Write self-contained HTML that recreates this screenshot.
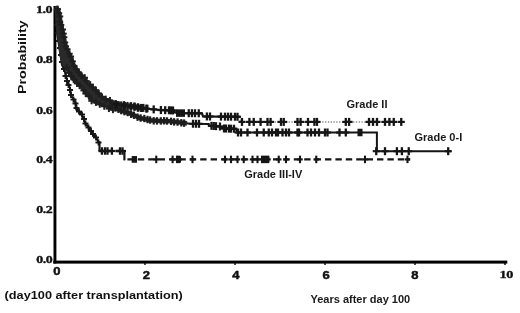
<!DOCTYPE html>
<html><head><meta charset="utf-8"><style>
html,body{margin:0;padding:0;background:#fff;width:520px;height:313px;overflow:hidden}
svg{display:block;filter:grayscale(1)}
.lab{font-family:"Liberation Sans",sans-serif;font-weight:bold;font-size:11px;fill:#1a1a1a}
.v{font-family:"Liberation Sans",sans-serif;font-weight:bold;font-size:10px;fill:#111;stroke:#111;stroke-width:0.45px}
.s{font-family:"Liberation Serif",serif;font-weight:bold;font-size:11.4px;letter-spacing:-0.4px;fill:#111;stroke:#111;stroke-width:0.35px}
</style></head><body>
<svg width="520" height="313" viewBox="0 0 520 313">
<rect x="53.5" y="6" width="2.9" height="257.5" fill="#000"/>
<rect x="53.3" y="260.6" width="454" height="3" fill="#000"/>
<rect x="144.3" y="263" width="1.4" height="2" fill="#000"/>
<rect x="234.3" y="263" width="1.4" height="2" fill="#000"/>
<rect x="324.3" y="263" width="1.4" height="2" fill="#000"/>
<rect x="414.3" y="263" width="1.4" height="2" fill="#000"/>
<rect x="504.3" y="263" width="1.4" height="2" fill="#000"/>
<path d="M55.5 7 L56 20 L57.5 35 L59 45 L60.5 55 L62 65 L64.5 70 L65.8 75 L67 80 L68.5 84.3 L70.4 89.6 L70.9 95.4 L73.75 99.2 L75.7 103 L76.2 108.8 L81.25 113.75 L83.75 118.75 L85 123 L88.75 127.5 L92.5 133.75 L96.25 137.5 L98.75 142.5 L99.5 142.5 L99.5 151" fill="none" stroke="#151515" stroke-width="2.1" />
<path d="M99.5 151 L124.4 151" fill="none" stroke="#151515" stroke-width="2.3" stroke-dasharray="5 3" />
<path d="M124.4 150 L124.4 160.4" fill="none" stroke="#151515" stroke-width="2.2" />
<path d="M124.4 159.4 L410 159.4" fill="none" stroke="#151515" stroke-width="2.2" stroke-dasharray="6.4 4" stroke-dashoffset="-3"/>
<rect x="56.1" y="22" width="1.8" height="6" fill="#151515"/><rect x="54" y="24.05" width="6" height="1.9" fill="#151515"/><rect x="57.1" y="30" width="1.8" height="6" fill="#151515"/><rect x="55" y="32.05" width="6" height="1.9" fill="#151515"/><rect x="58.1" y="38" width="1.8" height="6" fill="#151515"/><rect x="56" y="40.05" width="6" height="1.9" fill="#151515"/><rect x="59.1" y="45" width="1.8" height="6" fill="#151515"/><rect x="57" y="47.05" width="6" height="1.9" fill="#151515"/><rect x="60.1" y="52" width="1.8" height="6" fill="#151515"/><rect x="58" y="54.05" width="6" height="1.9" fill="#151515"/><rect x="61.1" y="59" width="1.8" height="6" fill="#151515"/><rect x="59" y="61.05" width="6" height="1.9" fill="#151515"/><rect x="63.1" y="66" width="1.8" height="6" fill="#151515"/><rect x="61" y="68.05" width="6" height="1.9" fill="#151515"/><rect x="64.6" y="73" width="1.8" height="6" fill="#151515"/><rect x="62.5" y="75.05" width="6" height="1.9" fill="#151515"/><rect x="66.1" y="78" width="1.8" height="6" fill="#151515"/><rect x="64" y="80.05" width="6" height="1.9" fill="#151515"/><rect x="67.6" y="82" width="1.8" height="6" fill="#151515"/><rect x="65.5" y="84.05" width="6" height="1.9" fill="#151515"/><rect x="69.1" y="87" width="1.8" height="6" fill="#151515"/><rect x="67" y="89.05" width="6" height="1.9" fill="#151515"/><rect x="70.1" y="92" width="1.8" height="6" fill="#151515"/><rect x="68" y="94.05" width="6" height="1.9" fill="#151515"/><rect x="72.6" y="96.5" width="1.8" height="6" fill="#151515"/><rect x="70.5" y="98.55" width="6" height="1.9" fill="#151515"/><rect x="74.6" y="100.5" width="1.8" height="6" fill="#151515"/><rect x="72.5" y="102.55" width="6" height="1.9" fill="#151515"/><rect x="75.6" y="105" width="1.8" height="6" fill="#151515"/><rect x="73.5" y="107.05" width="6" height="1.9" fill="#151515"/><rect x="78.1" y="108.5" width="1.8" height="6" fill="#151515"/><rect x="76" y="110.55" width="6" height="1.9" fill="#151515"/><rect x="81.1" y="111.5" width="1.8" height="6" fill="#151515"/><rect x="79" y="113.55" width="6" height="1.9" fill="#151515"/><rect x="83.1" y="116" width="1.8" height="6" fill="#151515"/><rect x="81" y="118.05" width="6" height="1.9" fill="#151515"/><rect x="84.6" y="120.5" width="1.8" height="6" fill="#151515"/><rect x="82.5" y="122.55" width="6" height="1.9" fill="#151515"/><rect x="87.6" y="124.5" width="1.8" height="6" fill="#151515"/><rect x="85.5" y="126.55" width="6" height="1.9" fill="#151515"/><rect x="90.1" y="128" width="1.8" height="6" fill="#151515"/><rect x="88" y="130.05" width="6" height="1.9" fill="#151515"/><rect x="92.1" y="131" width="1.8" height="6" fill="#151515"/><rect x="90" y="133.05" width="6" height="1.9" fill="#151515"/><rect x="95.1" y="134.5" width="1.8" height="6" fill="#151515"/><rect x="93" y="136.55" width="6" height="1.9" fill="#151515"/><rect x="97.6" y="139.5" width="1.8" height="6" fill="#151515"/><rect x="95.5" y="141.55" width="6" height="1.9" fill="#151515"/>
<rect x="100.75" y="147.25" width="2.3" height="7.5" fill="#151515"/><rect x="98.4" y="149.9" width="7" height="2.2" fill="#151515"/><rect x="103.85" y="147.25" width="2.3" height="7.5" fill="#151515"/><rect x="101.5" y="149.9" width="7" height="2.2" fill="#151515"/><rect x="106.35" y="147.25" width="2.3" height="7.5" fill="#151515"/><rect x="104" y="149.9" width="7" height="2.2" fill="#151515"/><rect x="110.75" y="147.25" width="2.3" height="7.5" fill="#151515"/><rect x="108.4" y="149.9" width="7" height="2.2" fill="#151515"/><rect x="118.85" y="147.25" width="2.3" height="7.5" fill="#151515"/><rect x="116.5" y="149.9" width="7" height="2.2" fill="#151515"/><rect x="121.35" y="147.25" width="2.3" height="7.5" fill="#151515"/><rect x="119" y="149.9" width="7" height="2.2" fill="#151515"/>
<rect x="155.2" y="155.65" width="2.1" height="7.5" fill="#151515"/><rect x="153.5" y="158.3" width="5.5" height="2.2" fill="#151515"/><rect x="171.55" y="155.65" width="2.1" height="7.5" fill="#151515"/><rect x="169.85" y="158.3" width="5.5" height="2.2" fill="#151515"/><rect x="175.95" y="155.65" width="2.1" height="7.5" fill="#151515"/><rect x="174.25" y="158.3" width="5.5" height="2.2" fill="#151515"/><rect x="177.95" y="155.65" width="2.1" height="7.5" fill="#151515"/><rect x="176.25" y="158.3" width="5.5" height="2.2" fill="#151515"/><rect x="191.45" y="155.65" width="2.1" height="7.5" fill="#151515"/><rect x="189.75" y="158.3" width="5.5" height="2.2" fill="#151515"/><rect x="223.95" y="155.65" width="2.1" height="7.5" fill="#151515"/><rect x="222.25" y="158.3" width="5.5" height="2.2" fill="#151515"/><rect x="229.95" y="155.65" width="2.1" height="7.5" fill="#151515"/><rect x="228.25" y="158.3" width="5.5" height="2.2" fill="#151515"/><rect x="236.45" y="155.65" width="2.1" height="7.5" fill="#151515"/><rect x="234.75" y="158.3" width="5.5" height="2.2" fill="#151515"/><rect x="242.7" y="155.65" width="2.1" height="7.5" fill="#151515"/><rect x="241" y="158.3" width="5.5" height="2.2" fill="#151515"/><rect x="251.45" y="155.65" width="2.1" height="7.5" fill="#151515"/><rect x="249.75" y="158.3" width="5.5" height="2.2" fill="#151515"/><rect x="256.45" y="155.65" width="2.1" height="7.5" fill="#151515"/><rect x="254.75" y="158.3" width="5.5" height="2.2" fill="#151515"/><rect x="260.95" y="155.65" width="2.1" height="7.5" fill="#151515"/><rect x="259.25" y="158.3" width="5.5" height="2.2" fill="#151515"/><rect x="262.95" y="155.65" width="2.1" height="7.5" fill="#151515"/><rect x="261.25" y="158.3" width="5.5" height="2.2" fill="#151515"/><rect x="264.95" y="155.65" width="2.1" height="7.5" fill="#151515"/><rect x="263.25" y="158.3" width="5.5" height="2.2" fill="#151515"/><rect x="266.95" y="155.65" width="2.1" height="7.5" fill="#151515"/><rect x="265.25" y="158.3" width="5.5" height="2.2" fill="#151515"/><rect x="277.7" y="155.65" width="2.1" height="7.5" fill="#151515"/><rect x="276" y="158.3" width="5.5" height="2.2" fill="#151515"/><rect x="284.95" y="155.65" width="2.1" height="7.5" fill="#151515"/><rect x="283.25" y="158.3" width="5.5" height="2.2" fill="#151515"/><rect x="298.95" y="155.65" width="2.1" height="7.5" fill="#151515"/><rect x="297.25" y="158.3" width="5.5" height="2.2" fill="#151515"/><rect x="315.2" y="155.65" width="2.1" height="7.5" fill="#151515"/><rect x="313.5" y="158.3" width="5.5" height="2.2" fill="#151515"/><rect x="363.95" y="155.65" width="2.1" height="7.5" fill="#151515"/><rect x="362.25" y="158.3" width="5.5" height="2.2" fill="#151515"/><rect x="406.45" y="155.65" width="2.1" height="7.5" fill="#151515"/><rect x="404.75" y="158.3" width="5.5" height="2.2" fill="#151515"/>
<rect x="131.7" y="156.05" width="5.3" height="6.7" fill="#151515"/>
<rect x="176" y="156.15" width="5" height="6.5" fill="#151515"/>
<rect x="262" y="156.15" width="7.5" height="6.5" fill="#151515"/>
<path d="M54 8 L56 5.5 L58.5 7 L60.2 9 L61.5 14 L62.5 20 L64 28 L65.6 35 L67 42 L68.75 49 L71 53 L73.2 57 L74.5 62 L76.5 66 L79.4 70 L83.8 75 L87.8 80 L92 85 L98.4 90.6 L104 96.2 L108 98.6 L113.6 100.2 L120 101.8 L120 110.5 L113.6 109.4 L108 108.2 L100.8 106.2 L94.4 103.8 L89.6 100.2 L84.8 93.8 L80 88.2 L76.3 85 L71.5 80 L68.2 75 L66 71 L64.5 68 L62.2 65 L60.75 60 L59.3 55 L58.75 49 L57.5 39 L56.5 35 L55.5 25 L55 15 L54 7 Z" fill="#2a2a2a"/>
<rect x="56.69" y="5.57" width="2" height="7" fill="#1e1e1e"/><rect x="54.44" y="8.07" width="6.5" height="2" fill="#1e1e1e"/><rect x="57.9" y="9.73" width="2" height="7" fill="#1e1e1e"/><rect x="55.65" y="12.23" width="6.5" height="2" fill="#1e1e1e"/><rect x="58.98" y="12.99" width="2" height="7" fill="#1e1e1e"/><rect x="56.73" y="15.49" width="6.5" height="2" fill="#1e1e1e"/><rect x="58.96" y="18.37" width="2" height="7" fill="#1e1e1e"/><rect x="56.71" y="20.87" width="6.5" height="2" fill="#1e1e1e"/><rect x="60.03" y="21.53" width="2" height="7" fill="#1e1e1e"/><rect x="57.78" y="24.03" width="6.5" height="2" fill="#1e1e1e"/><rect x="61.75" y="26.02" width="2" height="7" fill="#1e1e1e"/><rect x="59.5" y="28.52" width="6.5" height="2" fill="#1e1e1e"/><rect x="62.5" y="30.13" width="2" height="7" fill="#1e1e1e"/><rect x="60.25" y="32.63" width="6.5" height="2" fill="#1e1e1e"/><rect x="63.12" y="33.72" width="2" height="7" fill="#1e1e1e"/><rect x="60.87" y="36.22" width="6.5" height="2" fill="#1e1e1e"/><rect x="63.94" y="38.98" width="2" height="7" fill="#1e1e1e"/><rect x="61.69" y="41.48" width="6.5" height="2" fill="#1e1e1e"/><rect x="64.82" y="42.86" width="2" height="7" fill="#1e1e1e"/><rect x="62.57" y="45.36" width="6.5" height="2" fill="#1e1e1e"/><rect x="66.28" y="45.74" width="2" height="7" fill="#1e1e1e"/><rect x="64.03" y="48.24" width="6.5" height="2" fill="#1e1e1e"/><rect x="68.44" y="50.25" width="2" height="7" fill="#1e1e1e"/><rect x="66.19" y="52.75" width="6.5" height="2" fill="#1e1e1e"/><rect x="69.84" y="53.06" width="2" height="7" fill="#1e1e1e"/><rect x="67.59" y="55.56" width="6.5" height="2" fill="#1e1e1e"/><rect x="71.58" y="57.83" width="2" height="7" fill="#1e1e1e"/><rect x="69.33" y="60.33" width="6.5" height="2" fill="#1e1e1e"/><rect x="73.15" y="62.29" width="2" height="7" fill="#1e1e1e"/><rect x="70.9" y="64.79" width="6.5" height="2" fill="#1e1e1e"/><rect x="75.48" y="65.83" width="2" height="7" fill="#1e1e1e"/><rect x="73.23" y="68.33" width="6.5" height="2" fill="#1e1e1e"/><rect x="77.75" y="68.89" width="2" height="7" fill="#1e1e1e"/><rect x="75.5" y="71.39" width="6.5" height="2" fill="#1e1e1e"/><rect x="80.59" y="72.26" width="2" height="7" fill="#1e1e1e"/><rect x="78.34" y="74.76" width="6.5" height="2" fill="#1e1e1e"/><rect x="83.73" y="74.2" width="2" height="7" fill="#1e1e1e"/><rect x="81.48" y="76.7" width="6.5" height="2" fill="#1e1e1e"/><rect x="85.5" y="77.64" width="2" height="7" fill="#1e1e1e"/><rect x="83.25" y="80.14" width="6.5" height="2" fill="#1e1e1e"/><rect x="89.2" y="81.21" width="2" height="7" fill="#1e1e1e"/><rect x="86.95" y="83.71" width="6.5" height="2" fill="#1e1e1e"/><rect x="91.92" y="83.78" width="2" height="7" fill="#1e1e1e"/><rect x="89.67" y="86.28" width="6.5" height="2" fill="#1e1e1e"/><rect x="94.94" y="86.68" width="2" height="7" fill="#1e1e1e"/><rect x="92.69" y="89.18" width="6.5" height="2" fill="#1e1e1e"/><rect x="97.74" y="89.96" width="2" height="7" fill="#1e1e1e"/><rect x="95.49" y="92.46" width="6.5" height="2" fill="#1e1e1e"/><rect x="101.01" y="93.41" width="2" height="7" fill="#1e1e1e"/><rect x="98.76" y="95.91" width="6.5" height="2" fill="#1e1e1e"/><rect x="104.73" y="95.61" width="2" height="7" fill="#1e1e1e"/><rect x="102.48" y="98.11" width="6.5" height="2" fill="#1e1e1e"/><rect x="108.94" y="96.95" width="2" height="7" fill="#1e1e1e"/><rect x="106.69" y="99.45" width="6.5" height="2" fill="#1e1e1e"/><rect x="65.71" y="63.96" width="2" height="7" fill="#1e1e1e"/><rect x="63.46" y="66.46" width="6.5" height="2" fill="#1e1e1e"/><rect x="68.03" y="69.34" width="2" height="7" fill="#1e1e1e"/><rect x="65.78" y="71.84" width="6.5" height="2" fill="#1e1e1e"/><rect x="70.39" y="72.68" width="2" height="7" fill="#1e1e1e"/><rect x="68.14" y="75.18" width="6.5" height="2" fill="#1e1e1e"/><rect x="72.7" y="75.95" width="2" height="7" fill="#1e1e1e"/><rect x="70.45" y="78.45" width="6.5" height="2" fill="#1e1e1e"/><rect x="76.01" y="79.86" width="2" height="7" fill="#1e1e1e"/><rect x="73.76" y="82.36" width="6.5" height="2" fill="#1e1e1e"/><rect x="78.67" y="82.21" width="2" height="7" fill="#1e1e1e"/><rect x="76.42" y="84.71" width="6.5" height="2" fill="#1e1e1e"/><rect x="82.64" y="86.9" width="2" height="7" fill="#1e1e1e"/><rect x="80.39" y="89.4" width="6.5" height="2" fill="#1e1e1e"/><rect x="84.71" y="90.09" width="2" height="7" fill="#1e1e1e"/><rect x="82.46" y="92.59" width="6.5" height="2" fill="#1e1e1e"/><rect x="87.91" y="92.69" width="2" height="7" fill="#1e1e1e"/><rect x="85.66" y="95.19" width="6.5" height="2" fill="#1e1e1e"/><rect x="90.59" y="97.3" width="2" height="7" fill="#1e1e1e"/><rect x="88.34" y="99.8" width="6.5" height="2" fill="#1e1e1e"/><rect x="94.96" y="98.91" width="2" height="7" fill="#1e1e1e"/><rect x="92.71" y="101.41" width="6.5" height="2" fill="#1e1e1e"/><rect x="98.81" y="100.8" width="2" height="7" fill="#1e1e1e"/><rect x="96.56" y="103.3" width="6.5" height="2" fill="#1e1e1e"/><rect x="103.27" y="102.77" width="2" height="7" fill="#1e1e1e"/><rect x="101.02" y="105.27" width="6.5" height="2" fill="#1e1e1e"/><rect x="107.9" y="105.04" width="2" height="7" fill="#1e1e1e"/><rect x="105.65" y="107.54" width="6.5" height="2" fill="#1e1e1e"/><rect x="111.92" y="106.12" width="2" height="7" fill="#1e1e1e"/><rect x="109.67" y="108.62" width="6.5" height="2" fill="#1e1e1e"/>
<path d="M110 106.5 L120 110 L130 113.5 L140 118 L150 120.3 L160 121 L170 121.3 L180 122.5 L190 123.7 L208.75 123.9 L208.75 125.6 L220 126.5 L224 128.5 L236 128.8 L237 132.5 L376.9 132.5 L376.9 151.2 L451.5 151.2" fill="none" stroke="#151515" stroke-width="2.0" />
<path d="M112 107.2 L120 110 L130 113.5 L140 118 L150 120.3 L160 121 L170 121.3 L180 122.5 L187 123.4" fill="none" stroke="#2a2a2a" stroke-width="4.6" />
<rect x="110.72" y="103.22" width="2.2" height="7.4" fill="#1e1e1e"/><rect x="109.82" y="105.82" width="4" height="2.2" fill="#1e1e1e"/><rect x="114.26" y="104.28" width="2.2" height="7.4" fill="#1e1e1e"/><rect x="113.36" y="106.88" width="4" height="2.2" fill="#1e1e1e"/><rect x="117.35" y="105.64" width="2.2" height="7.4" fill="#1e1e1e"/><rect x="116.45" y="108.24" width="4" height="2.2" fill="#1e1e1e"/><rect x="120.09" y="106.88" width="2.2" height="7.4" fill="#1e1e1e"/><rect x="119.19" y="109.48" width="4" height="2.2" fill="#1e1e1e"/><rect x="123.27" y="107.94" width="2.2" height="7.4" fill="#1e1e1e"/><rect x="122.37" y="110.54" width="4" height="2.2" fill="#1e1e1e"/><rect x="126.52" y="108.79" width="2.2" height="7.4" fill="#1e1e1e"/><rect x="125.62" y="111.39" width="4" height="2.2" fill="#1e1e1e"/><rect x="130.04" y="110.61" width="2.2" height="7.4" fill="#1e1e1e"/><rect x="129.14" y="113.21" width="4" height="2.2" fill="#1e1e1e"/><rect x="132.84" y="111.52" width="2.2" height="7.4" fill="#1e1e1e"/><rect x="131.94" y="114.12" width="4" height="2.2" fill="#1e1e1e"/><rect x="136.44" y="113.49" width="2.2" height="7.4" fill="#1e1e1e"/><rect x="135.54" y="116.09" width="4" height="2.2" fill="#1e1e1e"/><rect x="139.53" y="114.34" width="2.2" height="7.4" fill="#1e1e1e"/><rect x="138.63" y="116.94" width="4" height="2.2" fill="#1e1e1e"/><rect x="143.24" y="114.83" width="2.2" height="7.4" fill="#1e1e1e"/><rect x="142.34" y="117.43" width="4" height="2.2" fill="#1e1e1e"/><rect x="146.43" y="115.78" width="2.2" height="7.4" fill="#1e1e1e"/><rect x="145.53" y="118.38" width="4" height="2.2" fill="#1e1e1e"/><rect x="149.05" y="116.33" width="2.2" height="7.4" fill="#1e1e1e"/><rect x="148.15" y="118.93" width="4" height="2.2" fill="#1e1e1e"/><rect x="152.6" y="117.13" width="2.2" height="7.4" fill="#1e1e1e"/><rect x="151.7" y="119.73" width="4" height="2.2" fill="#1e1e1e"/><rect x="155.87" y="117.18" width="2.2" height="7.4" fill="#1e1e1e"/><rect x="154.97" y="119.78" width="4" height="2.2" fill="#1e1e1e"/><rect x="159.72" y="117.22" width="2.2" height="7.4" fill="#1e1e1e"/><rect x="158.82" y="119.82" width="4" height="2.2" fill="#1e1e1e"/><rect x="163.02" y="117.07" width="2.2" height="7.4" fill="#1e1e1e"/><rect x="162.12" y="119.67" width="4" height="2.2" fill="#1e1e1e"/><rect x="165.93" y="117.29" width="2.2" height="7.4" fill="#1e1e1e"/><rect x="165.03" y="119.89" width="4" height="2.2" fill="#1e1e1e"/><rect x="169.95" y="117.65" width="2.2" height="7.4" fill="#1e1e1e"/><rect x="169.05" y="120.25" width="4" height="2.2" fill="#1e1e1e"/><rect x="172.96" y="118.18" width="2.2" height="7.4" fill="#1e1e1e"/><rect x="172.06" y="120.78" width="4" height="2.2" fill="#1e1e1e"/><rect x="176.47" y="118.35" width="2.2" height="7.4" fill="#1e1e1e"/><rect x="175.57" y="120.95" width="4" height="2.2" fill="#1e1e1e"/><rect x="180.19" y="119.09" width="2.2" height="7.4" fill="#1e1e1e"/><rect x="179.29" y="121.69" width="4" height="2.2" fill="#1e1e1e"/><rect x="183.01" y="119.42" width="2.2" height="7.4" fill="#1e1e1e"/><rect x="182.11" y="122.02" width="4" height="2.2" fill="#1e1e1e"/>
<rect x="191.85" y="119.73" width="2.3" height="8" fill="#151515"/><rect x="189.5" y="122.63" width="7" height="2.2" fill="#151515"/><rect x="194.85" y="119.76" width="2.3" height="8" fill="#151515"/><rect x="192.5" y="122.66" width="7" height="2.2" fill="#151515"/><rect x="197.85" y="119.8" width="2.3" height="8" fill="#151515"/><rect x="195.5" y="122.7" width="7" height="2.2" fill="#151515"/><rect x="210.35" y="121.82" width="2.3" height="8" fill="#151515"/><rect x="208" y="124.72" width="7" height="2.2" fill="#151515"/><rect x="212.6" y="122" width="2.3" height="8" fill="#151515"/><rect x="210.25" y="124.9" width="7" height="2.2" fill="#151515"/><rect x="214.85" y="122.18" width="2.3" height="8" fill="#151515"/><rect x="212.5" y="125.08" width="7" height="2.2" fill="#151515"/><rect x="218.85" y="122.5" width="2.3" height="8" fill="#151515"/><rect x="216.5" y="125.4" width="7" height="2.2" fill="#151515"/><rect x="222.85" y="124.5" width="2.3" height="8" fill="#151515"/><rect x="220.5" y="127.4" width="7" height="2.2" fill="#151515"/><rect x="224.85" y="124.55" width="2.3" height="8" fill="#151515"/><rect x="222.5" y="127.45" width="7" height="2.2" fill="#151515"/><rect x="227.85" y="124.62" width="2.3" height="8" fill="#151515"/><rect x="225.5" y="127.53" width="7" height="2.2" fill="#151515"/><rect x="229.85" y="124.68" width="2.3" height="8" fill="#151515"/><rect x="227.5" y="127.58" width="7" height="2.2" fill="#151515"/><rect x="232.85" y="124.75" width="2.3" height="8" fill="#151515"/><rect x="230.5" y="127.65" width="7" height="2.2" fill="#151515"/><rect x="236.85" y="128.5" width="2.3" height="8" fill="#151515"/><rect x="234.5" y="131.4" width="7" height="2.2" fill="#151515"/><rect x="239.85" y="128.5" width="2.3" height="8" fill="#151515"/><rect x="237.5" y="131.4" width="7" height="2.2" fill="#151515"/><rect x="246.35" y="128.5" width="2.3" height="8" fill="#151515"/><rect x="244" y="131.4" width="7" height="2.2" fill="#151515"/><rect x="255.85" y="128.5" width="2.3" height="8" fill="#151515"/><rect x="253.5" y="131.4" width="7" height="2.2" fill="#151515"/><rect x="262.6" y="128.5" width="2.3" height="8" fill="#151515"/><rect x="260.25" y="131.4" width="7" height="2.2" fill="#151515"/><rect x="267.6" y="128.5" width="2.3" height="8" fill="#151515"/><rect x="265.25" y="131.4" width="7" height="2.2" fill="#151515"/><rect x="270.85" y="128.5" width="2.3" height="8" fill="#151515"/><rect x="268.5" y="131.4" width="7" height="2.2" fill="#151515"/><rect x="274.85" y="128.5" width="2.3" height="8" fill="#151515"/><rect x="272.5" y="131.4" width="7" height="2.2" fill="#151515"/><rect x="276.85" y="128.5" width="2.3" height="8" fill="#151515"/><rect x="274.5" y="131.4" width="7" height="2.2" fill="#151515"/><rect x="281.35" y="128.5" width="2.3" height="8" fill="#151515"/><rect x="279" y="131.4" width="7" height="2.2" fill="#151515"/><rect x="284.85" y="128.5" width="2.3" height="8" fill="#151515"/><rect x="282.5" y="131.4" width="7" height="2.2" fill="#151515"/><rect x="287.85" y="128.5" width="2.3" height="8" fill="#151515"/><rect x="285.5" y="131.4" width="7" height="2.2" fill="#151515"/><rect x="296.35" y="128.5" width="2.3" height="8" fill="#151515"/><rect x="294" y="131.4" width="7" height="2.2" fill="#151515"/><rect x="297.85" y="128.5" width="2.3" height="8" fill="#151515"/><rect x="295.5" y="131.4" width="7" height="2.2" fill="#151515"/><rect x="306.35" y="128.5" width="2.3" height="8" fill="#151515"/><rect x="304" y="131.4" width="7" height="2.2" fill="#151515"/><rect x="309.85" y="128.5" width="2.3" height="8" fill="#151515"/><rect x="307.5" y="131.4" width="7" height="2.2" fill="#151515"/><rect x="313.85" y="128.5" width="2.3" height="8" fill="#151515"/><rect x="311.5" y="131.4" width="7" height="2.2" fill="#151515"/><rect x="317.85" y="128.5" width="2.3" height="8" fill="#151515"/><rect x="315.5" y="131.4" width="7" height="2.2" fill="#151515"/><rect x="323.85" y="128.5" width="2.3" height="8" fill="#151515"/><rect x="321.5" y="131.4" width="7" height="2.2" fill="#151515"/><rect x="326.35" y="128.5" width="2.3" height="8" fill="#151515"/><rect x="324" y="131.4" width="7" height="2.2" fill="#151515"/><rect x="338.35" y="128.5" width="2.3" height="8" fill="#151515"/><rect x="336" y="131.4" width="7" height="2.2" fill="#151515"/><rect x="344.65" y="128.5" width="2.3" height="8" fill="#151515"/><rect x="342.3" y="131.4" width="7" height="2.2" fill="#151515"/>
<rect x="357.5" y="128.75" width="5" height="7.5" fill="#151515"/>
<rect x="375.1" y="147.2" width="2.3" height="8" fill="#151515"/><rect x="372.75" y="150.15" width="7" height="2.1" fill="#151515"/><rect x="383.85" y="147.2" width="2.3" height="8" fill="#151515"/><rect x="381.5" y="150.15" width="7" height="2.1" fill="#151515"/><rect x="395.75" y="147.2" width="2.3" height="8" fill="#151515"/><rect x="393.4" y="150.15" width="7" height="2.1" fill="#151515"/><rect x="400.75" y="147.2" width="2.3" height="8" fill="#151515"/><rect x="398.4" y="150.15" width="7" height="2.1" fill="#151515"/><rect x="407.6" y="147.2" width="2.3" height="8" fill="#151515"/><rect x="405.25" y="150.15" width="7" height="2.1" fill="#151515"/><rect x="447.05" y="147.2" width="2.3" height="8" fill="#151515"/><rect x="444.7" y="150.15" width="7" height="2.1" fill="#151515"/>
<path d="M118 104.3 L130 106 L145 108.5 L160 110 L170 110.3 L174 110.5 L175 112.5 L180 113.1 L202 113.3 L203 116.4 L240 116.8" fill="none" stroke="#151515" stroke-width="2.2" />
<path d="M112 104 L118 105 L130 106.3 L144 108.3" fill="none" stroke="#2a2a2a" stroke-width="5.5" />
<rect x="110.85" y="100.05" width="2.2" height="8" fill="#1e1e1e"/><rect x="109.95" y="102.95" width="4" height="2.2" fill="#1e1e1e"/><rect x="114.48" y="100.5" width="2.2" height="8" fill="#1e1e1e"/><rect x="113.58" y="103.4" width="4" height="2.2" fill="#1e1e1e"/><rect x="117.22" y="101.1" width="2.2" height="8" fill="#1e1e1e"/><rect x="116.32" y="104" width="4" height="2.2" fill="#1e1e1e"/><rect x="120.08" y="101.39" width="2.2" height="8" fill="#1e1e1e"/><rect x="119.18" y="104.29" width="4" height="2.2" fill="#1e1e1e"/><rect x="123.71" y="101.96" width="2.2" height="8" fill="#1e1e1e"/><rect x="122.81" y="104.86" width="4" height="2.2" fill="#1e1e1e"/><rect x="126.35" y="101.91" width="2.2" height="8" fill="#1e1e1e"/><rect x="125.45" y="104.81" width="4" height="2.2" fill="#1e1e1e"/><rect x="129.53" y="102.7" width="2.2" height="8" fill="#1e1e1e"/><rect x="128.63" y="105.6" width="4" height="2.2" fill="#1e1e1e"/><rect x="133.3" y="102.53" width="2.2" height="8" fill="#1e1e1e"/><rect x="132.4" y="105.43" width="4" height="2.2" fill="#1e1e1e"/><rect x="136.75" y="103.72" width="2.2" height="8" fill="#1e1e1e"/><rect x="135.85" y="106.62" width="4" height="2.2" fill="#1e1e1e"/><rect x="139.59" y="103.9" width="2.2" height="8" fill="#1e1e1e"/><rect x="138.69" y="106.8" width="4" height="2.2" fill="#1e1e1e"/><rect x="142.27" y="103.87" width="2.2" height="8" fill="#1e1e1e"/><rect x="141.37" y="106.77" width="4" height="2.2" fill="#1e1e1e"/>
<path d="M240 116.8 L240.6 121.9 L405 121.9" fill="none" stroke="#888" stroke-width="1.5" stroke-dasharray="1.3 1.5" />
<rect x="114.85" y="100.3" width="2.3" height="8" fill="#151515"/><rect x="112.5" y="103.2" width="7" height="2.2" fill="#151515"/><rect x="122.85" y="101.15" width="2.3" height="8" fill="#151515"/><rect x="120.5" y="104.05" width="7" height="2.2" fill="#151515"/><rect x="129.85" y="102.17" width="2.3" height="8" fill="#151515"/><rect x="127.5" y="105.07" width="7" height="2.2" fill="#151515"/><rect x="133.45" y="102.77" width="2.3" height="8" fill="#151515"/><rect x="131.1" y="105.67" width="7" height="2.2" fill="#151515"/><rect x="136.85" y="103.33" width="2.3" height="8" fill="#151515"/><rect x="134.5" y="106.23" width="7" height="2.2" fill="#151515"/><rect x="140.85" y="104" width="2.3" height="8" fill="#151515"/><rect x="138.5" y="106.9" width="7" height="2.2" fill="#151515"/><rect x="145.35" y="104.65" width="2.3" height="8" fill="#151515"/><rect x="143" y="107.55" width="7" height="2.2" fill="#151515"/><rect x="152.55" y="105.37" width="2.3" height="8" fill="#151515"/><rect x="150.2" y="108.27" width="7" height="2.2" fill="#151515"/><rect x="159.75" y="106.03" width="2.3" height="8" fill="#151515"/><rect x="157.4" y="108.93" width="7" height="2.2" fill="#151515"/><rect x="164.05" y="106.16" width="2.3" height="8" fill="#151515"/><rect x="161.7" y="109.06" width="7" height="2.2" fill="#151515"/><rect x="167.85" y="106.27" width="2.3" height="8" fill="#151515"/><rect x="165.5" y="109.17" width="7" height="2.2" fill="#151515"/><rect x="169.85" y="106.35" width="2.3" height="8" fill="#151515"/><rect x="167.5" y="109.25" width="7" height="2.2" fill="#151515"/><rect x="171.85" y="106.45" width="2.3" height="8" fill="#151515"/><rect x="169.5" y="109.35" width="7" height="2.2" fill="#151515"/><rect x="187.6" y="109.18" width="2.3" height="8" fill="#151515"/><rect x="185.25" y="112.08" width="7" height="2.2" fill="#151515"/><rect x="190.75" y="109.21" width="2.3" height="8" fill="#151515"/><rect x="188.4" y="112.11" width="7" height="2.2" fill="#151515"/><rect x="193.85" y="109.24" width="2.3" height="8" fill="#151515"/><rect x="191.5" y="112.14" width="7" height="2.2" fill="#151515"/><rect x="197.6" y="109.27" width="2.3" height="8" fill="#151515"/><rect x="195.25" y="112.17" width="7" height="2.2" fill="#151515"/><rect x="205.75" y="112.44" width="2.3" height="8" fill="#151515"/><rect x="203.4" y="115.34" width="7" height="2.2" fill="#151515"/><rect x="208.85" y="112.48" width="2.3" height="8" fill="#151515"/><rect x="206.5" y="115.38" width="7" height="2.2" fill="#151515"/><rect x="219.85" y="112.59" width="2.3" height="8" fill="#151515"/><rect x="217.5" y="115.49" width="7" height="2.2" fill="#151515"/><rect x="223.85" y="112.64" width="2.3" height="8" fill="#151515"/><rect x="221.5" y="115.54" width="7" height="2.2" fill="#151515"/><rect x="226.85" y="112.67" width="2.3" height="8" fill="#151515"/><rect x="224.5" y="115.57" width="7" height="2.2" fill="#151515"/><rect x="229.85" y="112.7" width="2.3" height="8" fill="#151515"/><rect x="227.5" y="115.6" width="7" height="2.2" fill="#151515"/><rect x="233.85" y="112.75" width="2.3" height="8" fill="#151515"/><rect x="231.5" y="115.65" width="7" height="2.2" fill="#151515"/><rect x="236.35" y="112.77" width="2.3" height="8" fill="#151515"/><rect x="234" y="115.67" width="7" height="2.2" fill="#151515"/><rect x="240.85" y="117.9" width="2.3" height="8" fill="#151515"/><rect x="238.5" y="120.8" width="7" height="2.2" fill="#151515"/><rect x="248.25" y="117.9" width="2.3" height="8" fill="#151515"/><rect x="245.9" y="120.8" width="7" height="2.2" fill="#151515"/><rect x="252.6" y="117.9" width="2.3" height="8" fill="#151515"/><rect x="250.25" y="120.8" width="7" height="2.2" fill="#151515"/><rect x="259.45" y="117.9" width="2.3" height="8" fill="#151515"/><rect x="257.1" y="120.8" width="7" height="2.2" fill="#151515"/><rect x="266.35" y="117.9" width="2.3" height="8" fill="#151515"/><rect x="264" y="120.8" width="7" height="2.2" fill="#151515"/><rect x="269.45" y="117.9" width="2.3" height="8" fill="#151515"/><rect x="267.1" y="120.8" width="7" height="2.2" fill="#151515"/><rect x="279.85" y="117.9" width="2.3" height="8" fill="#151515"/><rect x="277.5" y="120.8" width="7" height="2.2" fill="#151515"/><rect x="282.6" y="117.9" width="2.3" height="8" fill="#151515"/><rect x="280.25" y="120.8" width="7" height="2.2" fill="#151515"/><rect x="296.35" y="117.9" width="2.3" height="8" fill="#151515"/><rect x="294" y="120.8" width="7" height="2.2" fill="#151515"/><rect x="299.45" y="117.9" width="2.3" height="8" fill="#151515"/><rect x="297.1" y="120.8" width="7" height="2.2" fill="#151515"/><rect x="306.85" y="117.9" width="2.3" height="8" fill="#151515"/><rect x="304.5" y="120.8" width="7" height="2.2" fill="#151515"/><rect x="313.25" y="117.9" width="2.3" height="8" fill="#151515"/><rect x="310.9" y="120.8" width="7" height="2.2" fill="#151515"/><rect x="315.85" y="117.9" width="2.3" height="8" fill="#151515"/><rect x="313.5" y="120.8" width="7" height="2.2" fill="#151515"/><rect x="344.65" y="117.9" width="2.3" height="8" fill="#151515"/><rect x="342.3" y="120.8" width="7" height="2.2" fill="#151515"/><rect x="347.95" y="117.9" width="2.3" height="8" fill="#151515"/><rect x="345.6" y="120.8" width="7" height="2.2" fill="#151515"/><rect x="367.85" y="117.9" width="2.3" height="8" fill="#151515"/><rect x="365.5" y="120.8" width="7" height="2.2" fill="#151515"/><rect x="371.85" y="117.9" width="2.3" height="8" fill="#151515"/><rect x="369.5" y="120.8" width="7" height="2.2" fill="#151515"/><rect x="375.85" y="117.9" width="2.3" height="8" fill="#151515"/><rect x="373.5" y="120.8" width="7" height="2.2" fill="#151515"/><rect x="383.85" y="117.9" width="2.3" height="8" fill="#151515"/><rect x="381.5" y="120.8" width="7" height="2.2" fill="#151515"/><rect x="388.25" y="117.9" width="2.3" height="8" fill="#151515"/><rect x="385.9" y="120.8" width="7" height="2.2" fill="#151515"/><rect x="392.6" y="117.9" width="2.3" height="8" fill="#151515"/><rect x="390.25" y="120.8" width="7" height="2.2" fill="#151515"/><rect x="400.1" y="117.9" width="2.3" height="8" fill="#151515"/><rect x="397.75" y="120.8" width="7" height="2.2" fill="#151515"/>
<rect x="176" y="109.35" width="9" height="7.5" fill="#151515"/>
<rect x="145.5" y="104.75" width="3" height="7.5" fill="#151515"/>

<text x="346.5" y="108" class="lab">Grade II</text>
<text x="414.5" y="140.6" class="lab">Grade 0-I</text>
<text x="244.2" y="178" class="lab">Grade III-IV</text>
<text x="310.5" y="303" class="lab">Years after day 100</text>

<g class="s">
<text transform="translate(36,13) scale(1.24,1)">1.0</text>
<text transform="translate(36.2,63.2) scale(1.22,1)">0.8</text>
<text transform="translate(36.2,113.6) scale(1.22,1)">0.6</text>
<text transform="translate(36.2,163.4) scale(1.22,1)">0.4</text>
<text transform="translate(36.2,213.4) scale(1.22,1)">0.2</text>
<text transform="translate(36.2,263.4) scale(1.22,1)">0.0</text>
</g>
<g class="v">
<text transform="translate(53.2,274.6) scale(1.3,1)">0</text>
<text transform="translate(142.7,278.5) scale(1.3,1)">2</text>
<text transform="translate(232.2,278.5) scale(1.3,1)">4</text>
<text transform="translate(322.5,278.5) scale(1.3,1)">6</text>
<text transform="translate(411.3,278.5) scale(1.3,1)">8</text>
</g>
<g class="s"><text transform="translate(499.6,278.3) scale(1.25,1)">10</text></g>
<g class="v" style="stroke-width:0">
<text transform="translate(26.3,94) rotate(-90) scale(1.36,1)" style="font-size:10.5px">Probability</text>
<text transform="translate(4.6,298.8) scale(1.213,1)" style="font-size:10.5px">(day100 after transplantation)</text>
</g>
</svg>
</body></html>
